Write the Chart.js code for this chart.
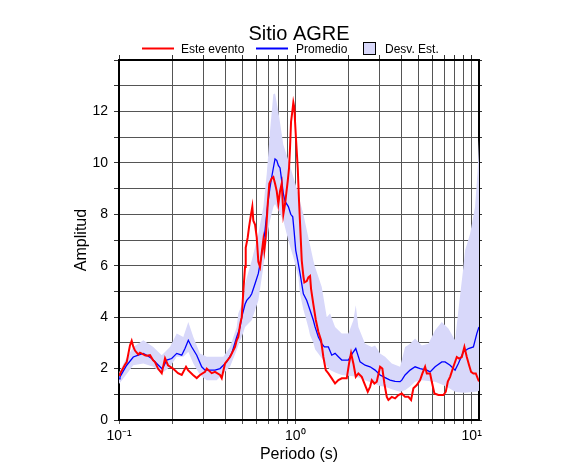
<!DOCTYPE html>
<html><head><meta charset="utf-8">
<script src="https://cdn.jsdelivr.net/npm/chart.js@4.4.1/dist/chart.umd.min.js"></script>
<style>html,body{margin:0;padding:0;background:#fff;}canvas{display:block;}</style>
</head><body>
<canvas id="c" width="586" height="475"></canvas>
<script>
const chartTitle = 'Sitio AGRE';
const legendLabels = ['Este evento', 'Promedio', 'Desv. Est.'];
const xAxisTitle = 'Periodo (s)';
const yAxisTitle = 'Amplitud';
const xTickValues = [0.1,0.2,0.3,0.4,0.5,0.6,0.7,0.8,0.9,1,2,3,4,5,6,7,8,9,10];
const xLabelValues = [0.1, 1, 10];
const xLabelTexts = ['10⁻¹', '10⁰', '10¹'];

const redPeriods = [0.1,0.1013,0.1081,0.1106,0.1154,0.118,0.1205,0.1232,0.1286,0.1315,0.1374,0.1404,0.1436,0.1499,0.1559,0.16,0.1664,0.1747,0.1824,0.1896,0.2024,0.2161,0.2268,0.2399,0.2462,0.2629,0.2759,0.2879,0.3075,0.3144,0.3355,0.3503,0.374,0.3824,0.3992,0.4262,0.4549,0.4651,0.4749,0.4857,0.4966,0.507,0.5184,0.5231,0.53,0.537,0.5462,0.5606,0.5702,0.5777,0.5907,0.604,0.6168,0.6306,0.6447,0.6583,0.667,0.6793,0.6973,0.712,0.7347,0.7502,0.767,0.7842,0.8009,0.8188,0.8372,0.8549,0.8741,0.9055,0.921,0.9331,0.9454,0.9616,0.9742,0.987,0.9961,1.0092,1.0318,1.0495,1.0675,1.0872,1.1102,1.1248,1.1606,1.1851,1.2117,1.2277,1.2651,1.3054,1.3505,1.399,1.4417,1.4875,1.5389,1.6088,1.6797,1.7537,1.8333,1.9568,2.0165,2.0697,2.1329,2.2009,2.277,2.3803,2.4851,2.5743,2.653,2.7125,2.8062,2.8955,3.0231,3.1153,3.1979,3.2997,3.3693,3.4449,3.5222,3.6773,3.8393,4.0136,4.1906,4.3751,4.5322,4.6709,4.8831,5.0982,5.2535,5.4422,5.5644,5.8095,5.9399,6.145,6.4731,6.9101,7.1302,7.3188,7.541,7.8739,8.2313,8.4823,8.7868,9.0905,9.3799,9.6659,9.922,10.224,10.55,10.915,11.0];
const redValues = [1.75,1.8,2.15,2.25,2.9,3.08,2.85,2.7,2.55,2.62,2.55,2.52,2.5,2.52,2.33,2.25,2.0,1.82,2.4,2.13,2.0,1.82,1.75,2.07,1.94,1.75,1.63,1.75,1.87,2.0,1.82,1.87,1.75,1.63,2.2,2.45,2.84,3.1,3.23,3.7,4.0,5.0,5.95,6.7,6.9,7.1,7.5,8.0,8.3,7.75,7.6,7.1,6.15,5.95,6.5,7.0,6.6,7.1,8.4,9.2,9.4,9.45,9.2,8.9,8.4,8.9,9.2,8.0,8.4,9.3,9.8,10.6,11.6,12.0,12.35,12.15,11.6,10.9,9.8,8.5,7.4,6.2,5.6,5.35,5.4,5.55,5.6,5.1,4.5,3.9,3.43,3.1,2.45,1.94,1.81,1.62,1.42,1.55,1.62,1.62,2.2,2.6,2.2,1.68,1.81,1.68,1.36,1.1,1.29,1.55,1.42,1.49,2.07,2.0,1.42,0.9,0.78,0.84,0.9,0.84,0.97,1.03,0.9,0.9,0.78,1.23,1.36,1.55,1.81,2.07,1.81,1.81,1.49,1.03,0.97,0.97,1.1,1.49,1.68,2.07,2.45,2.39,2.45,2.84,2.45,2.13,1.87,1.81,1.81,1.55,1.5];

const avgPeriods = [0.1,0.1013,0.1106,0.1205,0.1286,0.1374,0.1436,0.1532,0.1636,0.1747,0.1784,0.1864,0.199,0.2125,0.2268,0.2367,0.2472,0.2585,0.2759,0.2944,0.3075,0.3281,0.3503,0.374,0.4082,0.4357,0.4651,0.4857,0.4966,0.5184,0.53,0.5533,0.5657,0.5907,0.6168,0.6447,0.6731,0.6973,0.7185,0.7347,0.7502,0.767,0.7842,0.8009,0.8188,0.8372,0.8549,0.8741,0.9127,0.9417,0.9666,0.9832,1.0052,1.0318,1.0633,1.1102,1.1606,1.2117,1.2651,1.2935,1.3505,1.4118,1.4606,1.5389,1.6088,1.6797,1.7537,1.8333,1.9981,2.1051,2.2009,2.3281,2.4851,2.653,2.832,3.0231,3.2273,3.4449,3.6773,3.9255,4.0136,4.1906,4.4734,4.7759,5.0982,5.5644,5.8095,6.2014,6.7669,7.0653,7.541,8.0506,8.405,8.9724,9.578,10.224,10.688,11.0];
const avgValues = [1.6,1.68,2.13,2.45,2.52,2.59,2.52,2.39,2.2,2.0,2.07,2.33,2.39,2.59,2.52,2.78,3.1,2.84,2.52,2.07,1.94,1.94,1.94,2.0,2.26,2.59,3.23,3.6,4.0,4.5,4.65,4.8,4.91,5.3,5.7,6.45,7.37,8.4,9.05,9.45,9.8,10.15,10.1,9.9,9.8,9.3,8.8,8.5,8.3,8.0,7.9,7.37,6.6,6.2,5.7,4.91,4.65,4.27,3.88,3.62,3.23,2.97,2.84,2.84,2.52,2.59,2.46,2.33,2.33,2.59,2.78,2.26,2.13,2.07,1.94,1.75,1.65,1.55,1.5,1.49,1.55,1.75,1.94,2.07,2.0,1.94,1.87,2.07,2.26,2.26,2.13,1.94,2.2,2.65,2.78,2.84,3.36,3.62];

const bandPeriods = [0.1,0.1081,0.1205,0.1374,0.1565,0.1747,0.1946,0.2125,0.2316,0.2472,0.2639,0.2879,0.3144,0.3582,0.3905,0.4262,0.4651,0.4749,0.507,0.5184,0.5657,0.6168,0.6583,0.6882,0.7185,0.7502,0.767,0.8009,0.8549,0.9127,0.9742,1.04,1.0633,1.1102,1.1851,1.2117,1.2651,1.2935,1.4118,1.5071,1.5735,1.6797,1.8333,1.9981,2.1329,2.2009,2.277,2.4851,2.7125,2.832,3.0231,3.2273,3.5222,3.9255,4.1906,4.4734,4.7759,5.2126,5.682,6.2014,6.7669,7.3764,8.0506,8.405,8.9724,9.174,9.7933,10.454,10.829,11.0];
const bandUpper = [1.85,2.3,2.84,3.1,2.84,2.52,2.84,3.36,3.23,3.81,3.23,2.59,2.46,2.46,2.46,2.84,3.62,4.14,4.65,5.3,6.2,7.24,8.28,9.57,11.25,12.67,12.7,12.0,10.7,10.1,9.45,8.8,8.5,8.0,7.1,6.8,6.2,5.95,5.17,4.0,4.14,3.62,3.36,3.36,3.88,4.46,3.62,2.97,2.84,2.9,2.59,2.46,2.2,2.07,2.84,2.97,3.17,2.9,2.97,3.49,3.81,3.56,3.1,4.27,5.95,6.6,7.24,8.3,9.8,10.9];
const bandLower = [1.4,1.7,2.13,2.2,2.07,1.81,2.07,2.46,2.46,2.65,2.2,1.75,1.55,1.55,1.81,2.07,2.72,2.9,3.4,3.62,3.88,4.65,5.95,6.98,7.76,8.28,8.4,8.15,7.76,6.98,6.33,5.56,4.9,4.3,3.6,3.3,3.0,2.75,2.4,2.1,1.94,1.85,1.75,1.72,1.7,1.68,1.65,1.55,1.45,1.4,1.32,1.29,1.2,1.1,1.16,1.3,1.49,1.55,1.52,1.49,1.38,1.25,1.1,1.08,1.06,1.06,1.08,1.1,1.12,1.14];

const FONT = '"Liberation Sans", Arial, Helvetica, sans-serif';
const RED = '#ff0000', BLUE = '#0000ff', BAND = 'rgb(216,216,250)';
const GRID = '#555555';

const toPts = (xs, ys) => xs.map((x, i) => ({x: x, y: ys[i]}));

Chart.defaults.font.family = FONT;
Chart.defaults.color = '#000';

const headerPlugin = {
  id: 'header',
  afterDraw(chart) {
    const ctx = chart.ctx;
    const ca = chart.chartArea;
    const cx = (ca.left + ca.right) / 2;
    ctx.save();
    ctx.fillStyle = '#000';
    ctx.font = '20px ' + FONT;
    ctx.textAlign = 'center';
    ctx.textBaseline = 'alphabetic';
    ctx.fillText(chartTitle, cx, 40);
    ctx.font = '12px ' + FONT;
    ctx.textAlign = 'left';
    const ly = 48.5, tb = 53;
    ctx.lineWidth = 2;
    ctx.strokeStyle = RED;
    ctx.beginPath(); ctx.moveTo(cx - 157, ly); ctx.lineTo(cx - 125, ly); ctx.stroke();
    ctx.fillText(legendLabels[0], cx - 118, tb);
    ctx.strokeStyle = BLUE;
    ctx.beginPath(); ctx.moveTo(cx - 43, ly); ctx.lineTo(cx - 11, ly); ctx.stroke();
    ctx.fillText(legendLabels[1], cx - 3, tb);
    ctx.fillStyle = BAND;
    ctx.fillRect(cx + 64.5, 42.5, 12, 12);
    ctx.lineWidth = 1;
    ctx.strokeStyle = '#000';
    ctx.strokeRect(cx + 64.5, 42.5, 12, 12);
    ctx.fillStyle = '#000';
    ctx.fillText(legendLabels[2], cx + 86, tb);
    ctx.restore();
  }
};

const xTicksBuild = (scale) => { scale.ticks = xTickValues.map(v => ({value: v})); };
const xLabel = (value) => {
  for (let i = 0; i < xLabelValues.length; i++) {
    if (Math.abs(value - xLabelValues[i]) < 1e-9) return xLabelTexts[i];
  }
  return '';
};

new Chart(document.getElementById('c'), {
  type: 'line',
  data: {
    datasets: [
      {label: legendLabels[0], data: toPts(redPeriods, redValues), borderColor: RED, borderWidth: 2, pointRadius: 0, fill: false, tension: 0},
      {label: legendLabels[1], data: toPts(avgPeriods, avgValues), borderColor: BLUE, borderWidth: 1.3, pointRadius: 0, fill: false, tension: 0},
      {label: legendLabels[2], data: toPts(bandPeriods, bandUpper), borderWidth: 0, borderColor: 'rgba(0,0,0,0)', backgroundColor: BAND, pointRadius: 0, fill: '+1', tension: 0},
      {label: 'lower', data: toPts(bandPeriods, bandLower), borderWidth: 0, borderColor: 'rgba(0,0,0,0)', pointRadius: 0, fill: false, tension: 0}
    ]
  },
  options: {
    responsive: false,
    animation: false,
    devicePixelRatio: 1,
    layout: {padding: 0},
    plugins: {legend: {display: false}, title: {display: false}, tooltip: {enabled: false}},
    scales: {
      x: {
        type: 'logarithmic', position: 'bottom', min: 0.1, max: 11,
        afterBuildTicks: xTicksBuild,
        afterFit: (s) => { s.height = 55; },
        ticks: {autoSkip: false, maxRotation: 0, padding: 4, font: {size: 14}, color: '#000', callback: xLabel},
        grid: {color: GRID, lineWidth: 1, tickLength: 4, tickColor: GRID},
        border: {display: true, color: '#000', width: 2},
        title: {display: true, text: xAxisTitle, font: {size: 16}, color: '#000', padding: {top: 0, bottom: 11}}
      },
      x2: {
        type: 'logarithmic', position: 'top', min: 0.1, max: 11,
        afterBuildTicks: xTicksBuild,
        afterFit: (s) => { s.height = 60; },
        ticks: {display: false},
        grid: {drawOnChartArea: false, drawTicks: true, tickLength: 5, tickColor: '#333'},
        border: {display: true, color: '#000', width: 2}
      },
      y: {
        type: 'linear', position: 'left', min: 0, max: 14,
        afterFit: (s) => { s.width = 119; },
        ticks: {stepSize: 1, padding: 6, font: {size: 14}, color: '#000',
          callback: (v) => (v % 2 === 0 && v < 14) ? String(v) : ''},
        grid: {color: GRID, lineWidth: 1, tickLength: 5, tickColor: '#333'},
        border: {display: true, color: '#000', width: 2},
        title: {display: true, text: yAxisTitle, font: {size: 16}, color: '#000', padding: {top: 72, bottom: 0}}
      },
      y2: {
        type: 'linear', position: 'right', min: 0, max: 14,
        afterFit: (s) => { s.width = 107; },
        ticks: {stepSize: 1, display: false},
        grid: {drawOnChartArea: false, drawTicks: true, tickLength: 3, tickColor: '#333'},
        border: {display: true, color: '#000', width: 2}
      }
    }
  },
  plugins: [headerPlugin]
});
</script>
</body></html>
